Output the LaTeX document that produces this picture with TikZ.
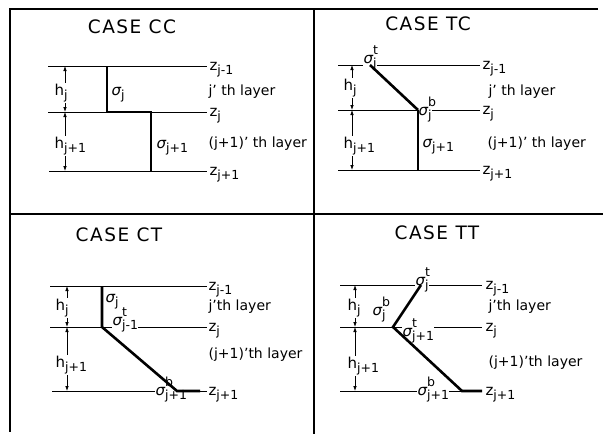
\documentclass[tikz,border=0pt]{standalone}
\usepackage{fontspec}
\setmainfont{DejaVu Sans}
\newfontfamily\ttlfont{DejaVu Sans}[LetterSpace=8]
\usetikzlibrary{arrows.meta}
\newcommand{\subsz}{\fontsize{12.5}{13}\selectfont}
\newcommand{\lsb}[2]{#1\raisebox{-0.33em}{\subsz #2}}
\newcommand{\lsbsp}[3]{#1\rlap{\raisebox{0.6em}{\subsz #3}}\raisebox{-0.33em}{\subsz #2}}
\newcommand{\sgm}{{\itshape σ}}
\begin{document}
\begin{tikzpicture}[x=1pt,y=-1pt,
  frame/.style={line width=1.1pt},
  hline/.style={line width=1pt},
  heavy/.style={line width=2.6pt},
  medium/.style={line width=1.4pt},
  dim/.style={line width=0.8pt,{Latex[length=5pt,width=3.6pt]}-{Latex[length=5pt,width=3.6pt]}},
  lbl/.style={anchor=base west,inner sep=0.4pt,font=\fontsize{15}{17}\selectfont},
  wl/.style={lbl,fill=white},
  lay/.style={anchor=base west,inner sep=0.4pt,font=\fontsize{14}{16}\selectfont},
  ttl/.style={font=\ttlfont\fontsize{18.5}{20}\selectfont,inner sep=0}]
\useasboundingbox (0,0) rectangle (603,434);
% frame
\coordinate (f1) at (10,9); \coordinate (f2) at (598,9); \coordinate (f3) at (10,432);
\coordinate (f4) at (314,9); \coordinate (f5) at (314,434);
\coordinate (f6) at (10,214); \coordinate (f7) at (603,214);
\draw[frame] (f2) -- (f1) -- (f3);
\draw[frame] (f4) -- (f5);
\draw[frame] (f6) -- (f7);

% ---------------- CASE CC
\node[ttl] (tcc) at (132,27) {CASE CC};
\draw[hline] (48,66) -- (207,66);
\draw[hline] (48,112) -- (207,112);
\draw[hline] (49,171) -- (207,171);
\draw[dim] (65,66) -- (65,112);
\draw[dim] (65,112) -- (65,171);
\node[wl] (cch1) at (54,95) {\lsb{h}{j}};
\node[wl] (cch2) at (54,148) {\lsb{h}{j+1}};
\node[lbl] (ccs1) at (111,95) {\lsb{\sgm}{j}};
\node[lbl] (ccs2) at (156,148) {\lsb{\sgm}{j+1}};
\node[lbl] (ccz1) at (209,70) {\lsb{z}{j-1}};
\node[lbl] (ccz2) at (209,116) {\lsb{z}{j}};
\node[lbl] (ccz3) at (209,175) {\lsb{z}{j+1}};
\node[lay] (ccl1) at (208,95) {j' th layer};
\node[lay] (ccl2) at (208,147) {(j+1)' th layer};
\draw[heavy] (107,66) -- (107,112) -- (151,112) -- (151,171);

% ---------------- CASE TC
\node[ttl] (ttc) at (428,24) {CASE TC};
\draw[hline] (338,65) -- (480,65);
\draw[hline] (338,110) -- (480,110);
\draw[hline] (338,170) -- (480,170);
\draw[dim] (352,65) -- (352,110);
\draw[dim] (352,110) -- (352,170);
\node[wl] (tch1) at (343,90) {\lsb{h}{j}};
\node[wl] (tch2) at (343,148) {\lsb{h}{j+1}};
\node[wl] (tcs1) at (363,63) {\lsbsp{\sgm}{j}{t}};
\node[wl] (tcs2) at (418,115) {\lsbsp{\sgm}{j}{b}};
\node[lbl] (tcs3) at (422,147) {\lsb{\sgm}{j+1}};
\node[lbl] (tcz1) at (482,69) {\lsb{z}{j-1}};
\node[lbl] (tcz2) at (482,114) {\lsb{z}{j}};
\node[lbl] (tcz3) at (482,174) {\lsb{z}{j+1}};
\node[lay] (tcl1) at (488,95) {j' th layer};
\node[lay] (tcl2) at (487,147) {(j+1)' th layer};
\draw[heavy] (370,65) -- (418,110);
\draw[medium] (418,110) -- (418,170);

% ---------------- CASE CT
\node[ttl] (tct) at (119,235) {CASE CT};
\draw[hline] (50,286) -- (207,286);
\draw[hline] (50,327) -- (207,327);
\draw[hline] (52,391) -- (207,391);
\draw[dim] (67,286) -- (67,327);
\draw[dim] (67,327) -- (67,391);
\node[wl] (cth1) at (55,310) {\lsb{h}{j}};
\node[wl] (cth2) at (55,367) {\lsb{h}{j+1}};
\node[wl] (cts2) at (112,325) {\lsbsp{\sgm}{j-1}{t}};
\node[lbl] (cts1) at (105,302) {\lsb{\sgm}{j}};
\node[wl] (cts3) at (155,395) {\lsbsp{\sgm}{j+1}{b}};
\node[lbl] (ctz1) at (208,290) {\lsb{z}{j-1}};
\node[lbl] (ctz2) at (208,331) {\lsb{z}{j}};
\node[lbl] (ctz3) at (208,395) {\lsb{z}{j+1}};
\node[lay] (ctl1) at (208,310) {j'th layer};
\node[lay] (ctl2) at (208,358) {(j+1)'th layer};
\draw[heavy] (102,286) -- (102,327) -- (177,391) -- (200,391);

% ---------------- CASE TT
\node[ttl] (ttt) at (437,233) {CASE TT};
\draw[hline] (340,285) -- (482,285);
\draw[hline] (340,327) -- (482,327);
\draw[hline] (340,391) -- (482,391);
\draw[dim] (355,285) -- (355,327);
\draw[dim] (355,327) -- (355,391);
\node[wl] (tth1) at (347,310) {\lsb{h}{j}};
\node[wl] (tth2) at (347,368) {\lsb{h}{j+1}};
\node[wl] (tts1) at (415,285) {\lsbsp{\sgm}{j}{t}};
\node[wl] (tts2) at (372,315) {\lsbsp{\sgm}{j}{b}};
\node[wl] (tts3) at (402,336) {\lsbsp{\sgm}{j+1}{t}};
\node[wl] (tts4) at (417,395) {\lsbsp{\sgm}{j+1}{b}};
\node[lbl] (ttz1) at (485,289) {\lsb{z}{j-1}};
\node[lbl] (ttz2) at (485,331) {\lsb{z}{j}};
\node[lbl] (ttz3) at (485,395) {\lsb{z}{j+1}};
\node[lay] (ttl1) at (488,310) {j'th layer};
\node[lay] (ttl2) at (488,366) {(j+1)'th layer};
\draw[heavy] (421,285) -- (393,327) -- (462,391) -- (482,391);
\end{tikzpicture}
\end{document}
